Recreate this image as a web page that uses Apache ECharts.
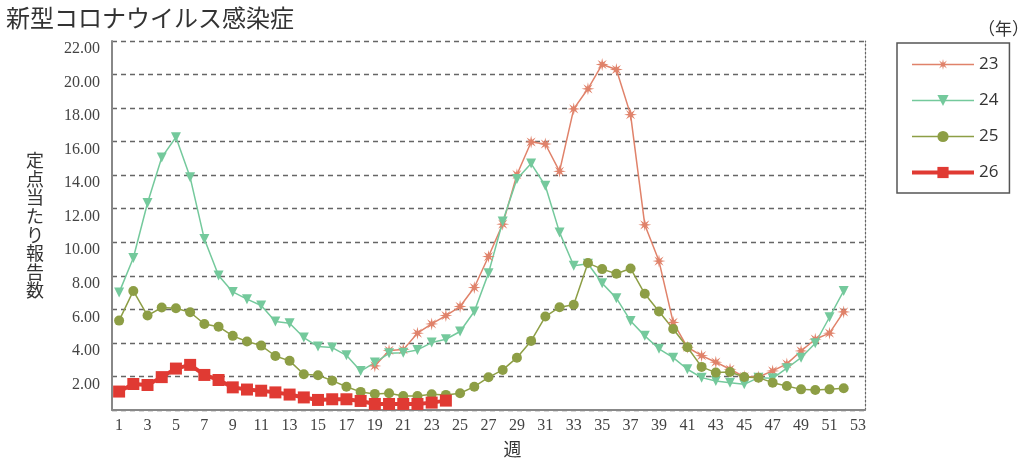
<!DOCTYPE html>
<html>
<head>
<meta charset="utf-8">
<title>新型コロナウイルス感染症</title>
<script src="https://cdn.jsdelivr.net/npm/echarts/dist/echarts.min.js"></script>
<style>
    html, body { margin: 0; padding: 0; background: #fff; }
    #chart { width: 1024px; height: 463px; }
</style>
</head>
<body>
<div id="chart"></div>
<script>
    // 週
    var weeks = ['1','2','3','4','5','6','7','8','9','10','11','12','13','14','15','16','17','18','19','20',
        '21','22','23','24','25','26','27','28','29','30','31','32','33','34','35','36','37','38','39','40',
        '41','42','43','44','45','46','47','48','49','50','51','52','53'];
    var seriesNames = ['23', '24', '25', '26'];
    // 定点当たり報告数
    var data23 = [null,null,null,null,null,null,null,null,null,null,null,null,null,null,null,null,null,null,
        2.63,3.55,3.6,4.58,5.13,5.63,6.17,7.3,9.15,11.08,14.03,15.98,15.86,14.23,17.95,19.15,20.6,20.3,17.61,11.04,8.88,5.22,
        3.74,3.24,2.85,2.43,1.99,1.97,2.33,2.75,3.52,4.22,4.58,5.85,null];
    var data24 = [7.0,9.06,12.34,15.06,16.26,13.87,10.19,8.02,7.04,6.61,6.23,5.27,5.17,4.32,3.78,3.72,3.26,2.32,2.83,3.38,
        3.42,3.58,4.02,4.22,4.68,5.87,8.16,11.24,13.77,14.69,13.37,10.59,8.6,8.72,7.56,6.67,5.31,4.42,3.65,3.12,
        2.43,1.93,1.73,1.63,1.53,1.93,1.89,2.49,3.12,3.98,5.53,7.1,null];
    var data25 = [5.33,7.1,5.63,6.11,6.07,5.83,5.13,4.97,4.42,4.08,3.84,3.22,2.93,2.13,2.07,1.75,1.39,1.08,0.96,1.0,
        0.84,0.84,0.94,0.9,1.0,1.39,1.95,2.39,3.12,4.12,5.57,6.13,6.27,8.76,8.4,8.12,8.44,6.93,5.87,4.83,
        3.74,2.57,2.23,2.27,1.97,1.93,1.63,1.43,1.23,1.19,1.23,1.3,null];
    var data26 = [1.1,1.55,1.49,1.96,2.47,2.69,2.09,1.79,1.35,1.22,1.15,1.05,0.92,0.75,0.6,0.64,0.64,0.54,0.36,0.36,
        0.36,0.36,0.44,0.56,null,null,null,null,null,null,null,null,null,null,null,null,null,null,null,null,
        null,null,null,null,null,null,null,null,null,null,null,null,null];
    var yTicks = [2, 4, 6, 8, 10, 12, 14, 16, 18, 20, 22];

    var colors = ['#e0826a', '#74c99c', '#8d9e45', '#e03a33'];
    var lineWidths = [1.5, 1.5, 1.5, 4];
    var serif = '"Liberation Serif", "DejaVu Serif", serif';
    var sans = '"Noto Sans CJK JP", "Noto Sans", sans-serif';

    // アスタリスク型のマーカー
    function starPath() {
        var pts = [];
        for (var i = 0; i < 16; i++) {
            var a = i * Math.PI / 8 - Math.PI / 2;
            var r = i % 2 == 0 ? 10 : 3.6;
            pts.push((i == 0 ? 'M' : 'L') + (r * Math.cos(a)).toFixed(2) + ' ' + (r * Math.sin(a)).toFixed(2));
        }
        return 'path://' + pts.join(' ') + ' Z';
    }

    function lineSeries(idx, data, symbol, size, rotate) {
        return {
            name: seriesNames[idx],
            type: 'line',
            data: data,
            symbol: symbol,
            symbolSize: size,
            symbolRotate: rotate || 0,
            showAllSymbol: true,
            connectNulls: false,
            clip: false,
            lineStyle: { color: colors[idx], width: lineWidths[idx] },
            itemStyle: { color: colors[idx], opacity: 1 },
            emphasis: { disabled: true }
        };
    }

    // 凡例（26だけ太線）
    var legendData = seriesNames.map(function(n, i) {
        return { name: n, lineStyle: { width: lineWidths[i] } };
    });

    var chart = echarts.init(document.getElementById('chart'));
    var option = {
        animation: false,
        backgroundColor: '#fff',
        title: [{
            text: '新型コロナウイルス感染症',
            left: 6,
            top: 6,
            padding: 0,
            textStyle: { fontFamily: sans, fontSize: 24, fontWeight: 'normal', color: '#333' }
        }, {
            text: '（年）',
            left: 978,
            top: 20,
            padding: 0,
            textStyle: { fontFamily: sans, fontSize: 17, fontWeight: 'normal', color: '#333' }
        }],
        legend: {
            data: legendData,
            orient: 'vertical',
            left: 897,
            top: 43,
            padding: [13, 11, 12, 13],
            itemWidth: 62,
            itemHeight: 14,
            itemGap: 19,
            borderColor: '#555',
            borderWidth: 1.5,
            borderRadius: 0,
            textStyle: { fontFamily: '"Open Sans", "Noto Sans", sans-serif', fontSize: 17, color: '#333' }
        },
        grid: {
            left: 112,
            right: 159,
            top: 41,
            bottom: 53
        },
        xAxis: {
            type: 'category',
            data: weeks,
            boundaryGap: true,
            name: '週',
            nameLocation: 'middle',
            nameGap: 30,
            nameTextStyle: { fontFamily: sans, fontSize: 18, color: '#333', padding: [0, 0, 0, 48] },
            axisLine: { lineStyle: { color: '#888', width: 2 } },
            axisTick: {
                inside: true,
                alignWithLabel: true,
                interval: 0,
                length: 8,
                lineStyle: { color: '#555', width: 1 }
            },
            axisLabel: {
                interval: 1,
                margin: 8,
                fontFamily: serif,
                fontSize: 16,
                color: '#444'
            },
            splitLine: { show: false }
        },
        yAxis: [{
            type: 'value',
            min: 0,
            max: 22,
            interval: 2,
            name: '定点当たり報告数'.split('').join('\n'),
            nameLocation: 'middle',
            nameRotate: 0,
            nameGap: 77,
            nameTextStyle: {
                fontFamily: sans, fontSize: 18, color: '#333',
                align: 'center', verticalAlign: 'middle', lineHeight: 18.6
            },
            axisLine: { show: true, lineStyle: { color: '#888', width: 2 } },
            axisTick: { show: false },
            axisLabel: {
                margin: 12,
                fontFamily: serif,
                fontSize: 16,
                color: '#444',
                verticalAlign: 'top',
                formatter: function(val) {
                    return yTicks.indexOf(val) >= 0 ? val.toFixed(2) : '';
                }
            },
            splitLine: {
                lineStyle: { color: '#666', width: 1.3, type: [5, 4] }
            }
        }, {
            // 右側の点線枠
            type: 'value',
            min: 0,
            max: 22,
            position: 'right',
            axisLine: { show: true, lineStyle: { color: '#666', width: 1.2, type: [2, 2] } },
            axisTick: { show: false },
            axisLabel: { show: false },
            splitLine: { show: false }
        }],
        series: [
            lineSeries(0, data23, starPath(), 13),
            lineSeries(1, data24, 'triangle', 10, 180),
            lineSeries(2, data25, 'circle', 10),
            lineSeries(3, data26, 'rect', 12)
        ]
    };
    chart.setOption(option);
</script>
</body>
</html>
